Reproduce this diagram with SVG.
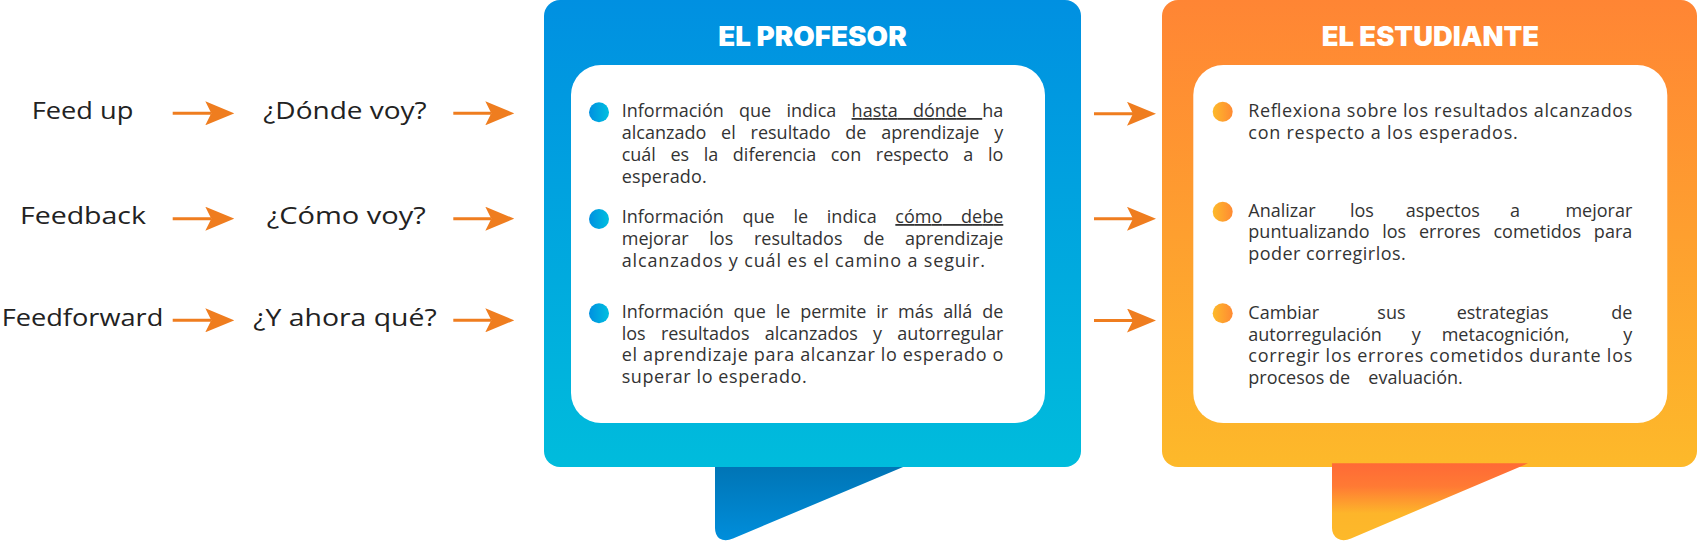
<svg xmlns="http://www.w3.org/2000/svg" width="1699" height="541" viewBox="0 0 1699 541">
<style>
.lbl{font-family:"Open Sans","Liberation Sans",sans-serif;font-size:24.5px;fill:#222}
.body{font-family:"Open Sans","Liberation Sans",sans-serif;font-size:18px;fill:#333}
.title{font-family:Inter,"Open Sans","Liberation Sans",sans-serif;font-weight:900;font-size:27px;fill:#fff}
.end{text-anchor:end}
.u{text-decoration:underline}
.arr{fill:none;stroke:#EF7D1F;stroke-width:3;marker-end:url(#ah)}
</style>
<defs>
<linearGradient id="profGrad" x1="0" y1="0" x2="0" y2="1">
<stop offset="0" stop-color="#0090E1"/><stop offset="1" stop-color="#00BCDC"/>
</linearGradient>
<linearGradient id="studGrad" x1="0" y1="0" x2="0" y2="1">
<stop offset="0" stop-color="#FF8534"/><stop offset="1" stop-color="#FDB92A"/>
</linearGradient>
<linearGradient id="profTail" x1="0" y1="0" x2="0" y2="1">
<stop offset="0" stop-color="#0073B3"/><stop offset="1" stop-color="#008EDB"/>
</linearGradient>
<linearGradient id="studTail" x1="0" y1="0" x2="0" y2="1">
<stop offset="0" stop-color="#FF6A36"/><stop offset="0.3" stop-color="#FF7A34"/><stop offset="0.65" stop-color="#FDB52A"/><stop offset="1" stop-color="#FDB92A"/>
</linearGradient>
<linearGradient id="profDot" x1="0" y1="0" x2="1" y2="0">
<stop offset="0" stop-color="#0090E0"/><stop offset="1" stop-color="#00BFE0"/>
</linearGradient>
<linearGradient id="studDot" x1="0" y1="0" x2="1" y2="0">
<stop offset="0" stop-color="#FDBA2A"/><stop offset="1" stop-color="#FF8A33"/>
</linearGradient>
<marker id="ah" markerUnits="userSpaceOnUse" markerWidth="29" markerHeight="24" viewBox="0 0 29 24" refX="6" refY="12" orient="auto">
<path d="M0 0 L29 12 L0 24 L6 12 Z" fill="#EF7D1F"/>
</marker>
</defs>

<g id="node-feedup"><text class="lbl" x="31.7" y="119.3" textLength="101.6" lengthAdjust="spacingAndGlyphs">Feed up</text></g>
<g id="node-feedback"><text class="lbl" x="20" y="224" textLength="126" lengthAdjust="spacingAndGlyphs">Feedback</text></g>
<g id="node-feedforward"><text class="lbl" x="1.7" y="326" textLength="161.6" lengthAdjust="spacingAndGlyphs">Feedforward</text></g>
<g id="node-donde"><text class="lbl" x="263.3" y="119" textLength="163.4" lengthAdjust="spacingAndGlyphs">¿Dónde voy?</text></g>
<g id="node-como"><text class="lbl" x="266.7" y="224" textLength="159" lengthAdjust="spacingAndGlyphs">¿Cómo voy?</text></g>
<g id="node-ahora"><text class="lbl" x="253.3" y="326" textLength="183.4" lengthAdjust="spacingAndGlyphs">¿Y ahora qué?</text></g>

<g id="node-profesor">
<path d="M715 462 H915 L733 538.5 Q725 542 719.5 538.5 Q715 535 715 528 Z" fill="url(#profTail)"/>
<rect x="544" y="0" width="537" height="467" rx="16" fill="url(#profGrad)"/>
<text class="title" x="718.3" y="46" textLength="188.4" lengthAdjust="spacingAndGlyphs">EL PROFESOR</text>
<rect x="571" y="65" width="474" height="358" rx="30" fill="#fff"/>
<circle cx="599" cy="112.3" r="10" fill="url(#profDot)"/>
<circle cx="599" cy="219" r="10" fill="url(#profDot)"/>
<circle cx="599" cy="313.3" r="10" fill="url(#profDot)"/>
<text class="body" x="621.7" y="117" word-spacing="10.6" textLength="381.6" lengthAdjust="spacing">Información que indica <tspan class="u">hasta dónde </tspan>ha</text>
<text class="body" x="621.7" y="139" word-spacing="10.1" textLength="381.6" lengthAdjust="spacing">alcanzado el resultado de aprendizaje y</text>
<text class="body" x="621.7" y="161" word-spacing="9.9" textLength="381.6" lengthAdjust="spacing">cuál es la diferencia con respecto a lo</text>
<text class="body" x="621.7" y="183" textLength="85" lengthAdjust="spacing">esperado.</text>
<text class="body" x="621.7" y="223" word-spacing="14" textLength="381.6" lengthAdjust="spacing">Información que le indica <tspan class="u">cómo debe</tspan></text>
<text class="body" x="621.7" y="245" word-spacing="16" textLength="381.6" lengthAdjust="spacing">mejorar los resultados de aprendizaje</text>
<text class="body" x="621.7" y="267" textLength="363.3" lengthAdjust="spacing">alcanzados y cuál es el camino a seguir.</text>
<text class="body" x="621.7" y="318" word-spacing="5.2" textLength="381.6" lengthAdjust="spacing">Información que le permite ir más allá de</text>
<text class="body" x="621.7" y="339.5" word-spacing="10.5" textLength="381.6" lengthAdjust="spacing">los resultados alcanzados y autorregular</text>
<text class="body" x="621.7" y="361" textLength="381.6" lengthAdjust="spacing">el aprendizaje para alcanzar lo esperado o</text>
<text class="body" x="621.7" y="382.5" textLength="185" lengthAdjust="spacing">superar lo esperado.</text>
</g>

<g id="node-estudiante">
<rect x="1162" y="0" width="535" height="467" rx="16" fill="url(#studGrad)"/>
<path d="M1332 463.3 H1528 L1351 538.5 Q1343 542 1337.5 538.5 Q1332 535 1332 528 Z" fill="url(#studTail)"/>
<text class="title" x="1321.7" y="46" textLength="217.3" lengthAdjust="spacingAndGlyphs">EL ESTUDIANTE</text>
<rect x="1193.3" y="65" width="474" height="358" rx="30" fill="#fff"/>
<circle cx="1222.7" cy="111.7" r="10" fill="url(#studDot)"/>
<circle cx="1222.7" cy="211.7" r="10" fill="url(#studDot)"/>
<circle cx="1222.7" cy="313.3" r="10" fill="url(#studDot)"/>
<text class="body" x="1248.3" y="117.3" textLength="384" lengthAdjust="spacing">Reflexiona sobre los resultados alcanzados</text>
<text class="body" x="1248.3" y="139" textLength="269.4" lengthAdjust="spacing">con respecto a los esperados.</text>
<text class="body" y="216.7"><tspan x="1248.3">Analizar</tspan><tspan x="1350">los</tspan><tspan x="1405.7">aspectos</tspan><tspan x="1510">a</tspan><tspan x="1632.3" class="end">mejorar</tspan></text>
<text class="body" x="1248.3" y="238.3" word-spacing="8" textLength="384" lengthAdjust="spacing">puntualizando los errores cometidos para</text>
<text class="body" x="1248.3" y="260" textLength="157.4" lengthAdjust="spacing">poder corregirlos.</text>
<text class="body" y="319.3"><tspan x="1248.3">Cambiar</tspan><tspan x="1377.3">sus</tspan><tspan x="1456.7">estrategias</tspan><tspan x="1632.3" class="end">de</tspan></text>
<text class="body" y="341"><tspan x="1248.3">autorregulación</tspan><tspan x="1411.7">y</tspan><tspan x="1441.7">metacognición,</tspan><tspan x="1632.3" class="end">y</tspan></text>
<text class="body" x="1248.3" y="362.3" textLength="384" lengthAdjust="spacing">corregir los errores cometidos durante los</text>
<text class="body" y="384"><tspan x="1248.3">procesos de</tspan><tspan x="1368.3">evaluación.</tspan></text>
</g>

<g id="connectors">
<path class="arr" d="M172.7 113.3 H211.3"/>
<path class="arr" d="M172.7 218.7 H211.3"/>
<path class="arr" d="M172.7 320.3 H211.3"/>
<path class="arr" d="M453.3 113.3 H491.3"/>
<path class="arr" d="M453.3 218.7 H491.3"/>
<path class="arr" d="M453.3 320.3 H491.3"/>
<path class="arr" d="M1094 113.8 H1133"/>
<path class="arr" d="M1094 218.8 H1133"/>
<path class="arr" d="M1094 320.5 H1133"/>
</g>
</svg>
